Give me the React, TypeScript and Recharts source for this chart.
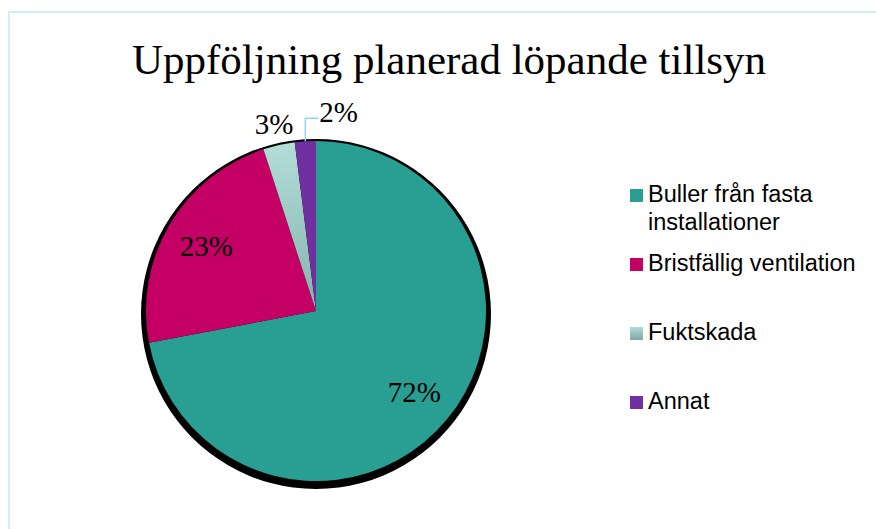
import React from "react";
import { PieChart, Pie, Cell, Legend } from "recharts";

const categories = [
  "Buller från fasta installationer",
  "Bristfällig ventilation",
  "Fuktskada",
  "Annat",
];
const shares = [72, 23, 3, 2];
const sliceColors = ["#299E93", "#C40064", "url(#fukt-grad)", "#7030A0"];
const legendColors = [
  "#299E93",
  "#C40064",
  "linear-gradient(#B2DDD8, #7FA6A2)",
  "#7030A0",
];

const data = categories.map((name, i) => ({ name, value: shares[i] }));
const shadowData = [{ name: "shadow", value: 1 }];

const RADIAN = Math.PI / 180;
const CX = 316;
const CY = 311;
const R = 170;
const serif = "'Liberation Serif', 'Times New Roman', serif";
const sans = "'Liberation Sans', Arial, sans-serif";

function renderLabel(props: any) {
  const { cx, cy, midAngle, outerRadius, percent, index } = props;
  const text = `${Math.round(percent * 100)}%`;
  const cos = Math.cos(-midAngle * RADIAN);
  const sin = Math.sin(-midAngle * RADIAN);
  if (index < 2) {
    const r = outerRadius * 0.75;
    return (
      <text
        x={cx + r * cos}
        y={cy + r * sin}
        textAnchor="middle"
        dominantBaseline="central"
        fontFamily={serif}
        fontSize={29}
        fill="#000"
      >
        {text}
      </text>
    );
  }
  if (index === 2) {
    const r = outerRadius + 22;
    return (
      <text
        x={cx + r * cos}
        y={cy + r * sin}
        textAnchor="middle"
        dominantBaseline="central"
        fontFamily={serif}
        fontSize={29}
        fill="#000"
      >
        {text}
      </text>
    );
  }
  // small slice: label pulled out with an elbow leader line
  const ex = cx + outerRadius * cos;
  const ey = cy + outerRadius * sin;
  const ly = ey - 23;
  return (
    <g>
      <polyline
        points={`${ex},${ey} ${ex},${ly} ${ex + 13},${ly}`}
        fill="none"
        stroke="#8FD3F5"
        strokeWidth={1.5}
      />
      <text
        x={ex + 14}
        y={ly - 6}
        textAnchor="start"
        dominantBaseline="central"
        fontFamily={serif}
        fontSize={29}
        fill="#000"
      >
        {text}
      </text>
    </g>
  );
}

function LegendBox() {
  return (
    <div style={{ fontFamily: sans, fontSize: 23.5, lineHeight: "28px", color: "#000" }}>
      {categories.map((c, i) => (
        <div key={c} style={{ display: "flex", height: 69, alignItems: "flex-start" }}>
          <span
            style={{
              width: 13,
              height: 13,
              marginTop: 9,
              marginRight: 5,
              flex: "0 0 13px",
              background: legendColors[i],
            }}
          />
          <span style={{ width: 222 }}>{c}</span>
        </div>
      ))}
    </div>
  );
}

export default function App() {
  return (
    <div style={{ position: "absolute", left: 0, top: 0, width: 876, height: 529, overflow: "hidden", background: "#fff" }}>
      <div
        style={{
          position: "absolute",
          left: 8,
          top: 11,
          width: 900,
          height: 560,
          border: "2px solid #D3ECFC",
          boxSizing: "border-box",
        }}
      />
      <div
        style={{
          position: "absolute",
          left: 0,
          width: 898,
          top: 34,
          textAlign: "center",
          fontFamily: serif,
          fontSize: 43,
          lineHeight: "52px",
          color: "#000",
        }}
      >
        Uppföljning planerad löpande tillsyn
      </div>
      <div style={{ position: "absolute", left: 0, top: 0 }}>
        <PieChart width={876} height={529} margin={{ top: 0, right: 0, bottom: 0, left: 0 }}>
          <defs>
            <linearGradient id="fukt-grad" x1="0" y1="0" x2="0" y2="1">
              <stop offset="0%" stopColor="#B2DDD8" />
              <stop offset="100%" stopColor="#86B3AE" />
            </linearGradient>
          </defs>
          <Pie
            data={shadowData}
            dataKey="value"
            cx={CX}
            cy={CY + 3}
            outerRadius={R + 5}
            startAngle={90}
            endAngle={-270}
            stroke="none"
            fill="#000"
            legendType="none"
            isAnimationActive={false}
          />
          <Pie
            data={data}
            dataKey="value"
            nameKey="name"
            cx={CX}
            cy={CY}
            outerRadius={R}
            startAngle={90}
            endAngle={-270}
            stroke="none"
            label={renderLabel}
            labelLine={false}
            isAnimationActive={false}
          >
            {data.map((d, i) => (
              <Cell key={d.name} fill={sliceColors[i]} />
            ))}
          </Pie>
          <Legend
            layout="vertical"
            content={() => <LegendBox />}
            wrapperStyle={{ position: "absolute", left: 630, top: 180, width: 250 }}
          />
        </PieChart>
      </div>
    </div>
  );
}
